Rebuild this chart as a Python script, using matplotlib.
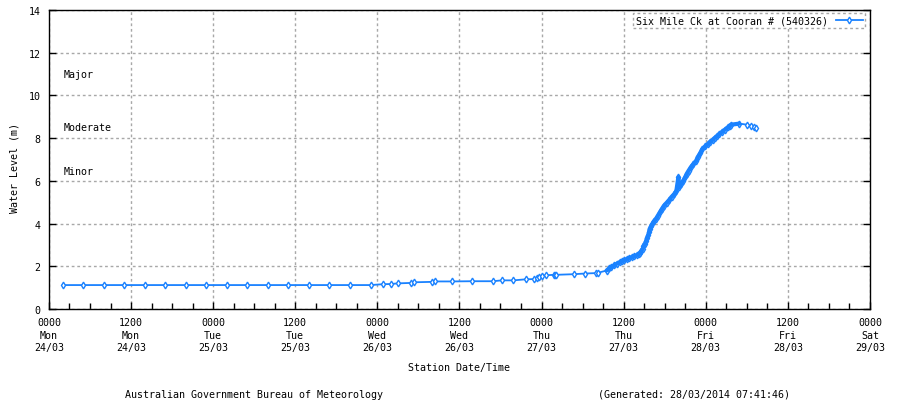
#!/usr/bin/env python3
"""Six Mile Ck at Cooran water level plot (BoM style)."""

import matplotlib

matplotlib.use("Agg")

import matplotlib.pyplot as plt
from matplotlib.ticker import MultipleLocator

# hours since Mon 24/03 00:00 and water level (m)
hours = [
    2, 5, 8, 11, 14, 17, 20, 23, 26, 29, 32, 35, 38, 41, 44, 47,
    48.8, 50.0, 51.0, 52.9, 53.3, 56.0, 56.4, 58.9, 61.9, 64.9, 66.2, 67.9,
    69.7, 70.9, 71.3, 71.7, 72.0, 72.7, 73.8, 73.9, 74.1, 76.8, 78.3, 79.9,
    80.3, 81.5, 81.9, 82.2, 82.6, 83.0, 83.4, 83.8, 84.1, 84.5, 84.8, 85.2,
    85.5, 85.9, 86.2, 86.4, 86.6, 86.8, 86.9, 87.1, 87.3, 87.4, 87.6, 87.7,
    87.8, 88.0, 88.2, 88.4, 88.7, 89.0, 89.3, 89.6, 89.9, 90.3, 90.7, 91.0,
    91.4, 91.7, 92.0, 92.1, 92.4, 92.7, 93.0, 93.2, 93.5, 93.8, 94.2, 94.6,
    94.8, 95.2, 95.5, 95.9, 96.3, 96.6, 97.0, 97.3, 97.7, 98.0, 98.4, 98.8,
    99.2, 99.5, 99.7, 100.9, 102.1, 102.6, 103.1, 103.4,
]
levels = [
    1.12, 1.12, 1.12, 1.12, 1.12, 1.12, 1.12, 1.12, 1.12, 1.12, 1.12, 1.12,
    1.12, 1.12, 1.12, 1.12,
    1.16, 1.17, 1.20, 1.22, 1.25, 1.27, 1.29, 1.29, 1.30, 1.30, 1.34, 1.34,
    1.39, 1.40, 1.45, 1.50, 1.55, 1.58, 1.60, 1.61, 1.60, 1.63, 1.66, 1.68,
    1.70, 1.80, 1.90, 1.95, 2.05, 2.12, 2.19, 2.24, 2.29, 2.34, 2.39, 2.43,
    2.47, 2.52, 2.57, 2.64, 2.73, 2.83, 2.93, 3.05, 3.20, 3.33, 3.46, 3.60,
    3.75, 3.87, 3.98, 4.10, 4.21, 4.37, 4.53, 4.69, 4.84, 4.98, 5.12, 5.25,
    5.38, 5.52, 6.17, 5.69, 5.85, 6.01, 6.17, 6.32, 6.48, 6.63, 6.79, 6.94,
    7.10, 7.30, 7.49, 7.61, 7.72, 7.82, 7.91, 8.01, 8.11, 8.20, 8.30, 8.40,
    8.50, 8.58, 8.63, 8.68, 8.63, 8.58, 8.53, 8.49,
]

tick_hours = [0, 12, 24, 36, 48, 60, 72, 84, 96, 108, 120]
tick_times = ["0000", "1200"] * 5 + ["0000"]
tick_days = ["Mon", "Mon", "Tue", "Tue", "Wed", "Wed", "Thu", "Thu", "Fri", "Fri", "Sat"]
tick_dates = ["24/03", "24/03", "25/03", "25/03", "26/03", "26/03",
              "27/03", "27/03", "28/03", "28/03", "29/03"]

flood_names = ["Major", "Moderate", "Minor"]
flood_label_y = [11.0, 8.5, 6.45]

series_name = "Six Mile Ck at Cooran # (540326)"
LINE = "#1a82ff"
FONT = "DejaVu Sans Mono"
FS = 7.2

plt.rcParams["font.family"] = FONT
plt.rcParams["font.size"] = FS

fig = plt.figure(figsize=(9, 4.02), dpi=100)
ax = fig.add_axes([0.0544, 0.2289, 0.9122, 0.7437])

ax.plot(hours, levels, color=LINE, lw=1.3, marker="d", ms=3.4,
        mfc="white", mec=LINE, mew=1.0, label=series_name)
# heavier stroke where readings are densely packed
ax.plot(hours[41:104], levels[41:104], color=LINE, lw=3.0, solid_capstyle="round")

ax.set_xlim(0, 120)
ax.set_ylim(0, 14)
ax.set_xticks(tick_hours)
ax.set_xticklabels([f"{t}\n{d}\n{s}" for t, d, s in zip(tick_times, tick_days, tick_dates)],
                   linespacing=1.3)
ax.xaxis.set_minor_locator(MultipleLocator(3))
ax.yaxis.set_major_locator(MultipleLocator(2))

ax.tick_params(axis="x", which="major", direction="in", length=5, width=1, pad=6, labelsize=FS)
ax.tick_params(axis="x", which="minor", direction="in", length=4, width=1)
ax.tick_params(axis="y", which="major", direction="in", length=5, width=1, pad=6,
               labelsize=FS, right=True)

ax.grid(True, which="major", color="#a8a8a8", linestyle=(0, (2, 2)), linewidth=1)
for spine in ax.spines.values():
    spine.set_color("black")
    spine.set_linewidth(1)

for name, y in zip(flood_names, flood_label_y):
    ax.text(2.2, y, name, ha="left", va="center", fontsize=FS)

ax.set_xlabel("Station Date/Time", fontsize=FS, labelpad=7)
ax.set_ylabel("Water Level (m)", fontsize=FS)
ax.yaxis.set_label_coords(-0.036, 0.475)

leg = ax.legend(loc="upper right", bbox_to_anchor=(0.994, 0.99), borderaxespad=0,
                markerfirst=False, handlelength=2.7, handletextpad=0.8,
                borderpad=0.25, fancybox=False, framealpha=1, fontsize=FS)
frame = leg.get_frame()
frame.set_edgecolor("#a8a8a8")
frame.set_linestyle((0, (2, 2)))
frame.set_linewidth(1)

fig.text(254 / 900, 1 - 395 / 402, "Australian Government Bureau of Meteorology",
         ha="center", va="center", fontsize=FS)
fig.text(694 / 900, 1 - 395 / 402, "(Generated: 28/03/2014 07:41:46)",
         ha="center", va="center", fontsize=FS)

fig.savefig("out.png", dpi=100, facecolor="white")
